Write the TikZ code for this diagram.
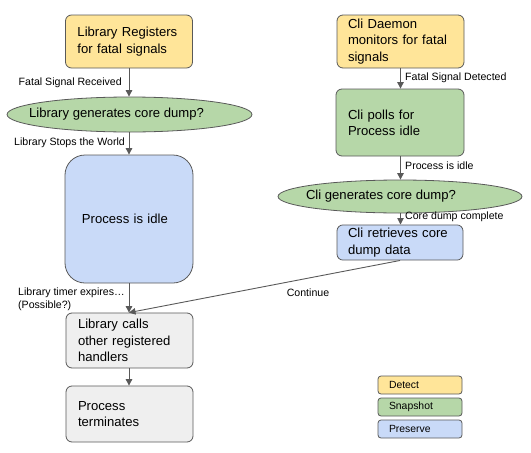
\documentclass[tikz,border=0pt]{standalone}
\usepackage{fontspec}
\setmainfont{Liberation Sans}
\usetikzlibrary{shapes.geometric,arrows.meta,calc}
\definecolor{cyel}{HTML}{FFE599}
\definecolor{cgrn}{HTML}{B6D7A8}
\definecolor{cblu}{HTML}{C9DAF8}
\definecolor{cgry}{HTML}{EFEFEF}
\definecolor{cbrd}{HTML}{595959}
\begin{document}
\begin{tikzpicture}[x=1pt,y=-1pt,
  box/.style={draw=cbrd,line width=0.8pt,rounded corners=6pt,inner xsep=12pt,align=left,
    font=\fontsize{13.1}{16.3}\selectfont,anchor=center},
  oval/.style={draw=cbrd,line width=0.8pt,ellipse,fill=cgrn,inner sep=0pt,
    font=\fontsize{13.1}{16.3}\selectfont},
  lbl/.style={font=\fontsize{10.6}{12.5}\selectfont,inner sep=0pt,align=left},
  leg/.style={draw=cbrd,line width=0.8pt,rounded corners=3pt,minimum width=84pt,minimum height=18pt,
    text width=62pt,inner xsep=11pt,align=left,font=\fontsize{10.4}{11}\selectfont},
  arr/.style={draw=cbrd,line width=0.9pt,-{Triangle[length=6.5pt,width=6.5pt]}}]
\useasboundingbox (0,0) rectangle (531,453);
% left column
\node[box,fill=cyel,minimum width=127pt,minimum height=53pt,text width=103pt] (lr) at (129,41.5) {Library Registers\\for fatal signals};
\node[oval,minimum width=245pt,minimum height=35pt] (lg) at (129.5,114.5) {\makebox[0pt][c]{\hspace*{-26pt}Library generates core dump?}};
\node[box,fill=cblu,rounded corners=20pt,minimum width=128pt,minimum height=128pt,text width=104pt,inner xsep=12pt] (pi) at (129,219) {\hspace*{5pt}Process is idle};
\node[box,fill=cgry,minimum width=127pt,minimum height=55pt,text width=103pt] (lc) at (129.5,340.5) {Library calls\\other registered\\handlers};
\node[box,fill=cgry,minimum width=127pt,minimum height=56pt,text width=103pt] (pt) at (129.5,414) {Process\\terminates};
% right column
\node[box,fill=cyel,minimum width=127pt,minimum height=53pt,text width=105pt,inner xsep=11pt] (cd) at (400.5,41.5) {Cli Daemon\\monitors for fatal\\signals};
\node[box,fill=cgrn,minimum width=128pt,minimum height=67pt,text width=104pt] (cp) at (400,122.5) {Cli polls for\\Process idle};
\node[oval,minimum width=244pt,minimum height=33pt] (cg) at (400,196.5) {\makebox[0pt][c]{\hspace*{-38pt}Cli generates core dump?}};
\node[box,fill=cblu,minimum width=126pt,minimum height=35pt,text width=104pt,inner xsep=11pt] (cr) at (400,242.5) {Cli retrieves core\\dump data};
% legend
\node[leg,fill=cyel] (ld) at (420,385) {Detect};
\node[leg,fill=cgrn] (ls) at (420,407) {Snapshot};
\node[leg,fill=cblu] (lp) at (420,429) {Preserve};
% arrows
\draw[arr] (lr.south) -- (lr.south |- lg.north);
\draw[arr] (lr.south |- lg.south) -- (lr.south |- pi.north);
\draw[arr] (lr.south |- pi.south) -- (lr.south |- lc.north);
\draw[arr] (lr.south |- lc.south) -- (lr.south |- pt.north);
\draw[arr] (cd.south) -- (cd.south |- cp.north);
\draw[arr] (cd.south |- cp.south) -- (cd.south |- cg.north);
\draw[arr] (cd.south |- cg.south) -- (cd.south |- cr.north);
\draw[arr] (cr.south) -- (lr.south |- lc.north);
% labels
\node[lbl,anchor=east] (l1) at (122,83) {Fatal Signal Received};
\node[lbl,anchor=east] (l2) at (125,143) {Library Stops the World};
\node[lbl,anchor=west] (l3) at (18,299.5) {Library timer expires…\\(Possible?)};
\node[lbl] (l4) at (308,293) {Continue};
\node[lbl,anchor=west] (r1) at (405,78) {Fatal Signal Detected};
\node[lbl,anchor=west] (r2) at (405,166) {Process is idle};
\node[lbl,anchor=west] (r3) at (405,217) {Core dump complete};
\end{tikzpicture}
\end{document}
